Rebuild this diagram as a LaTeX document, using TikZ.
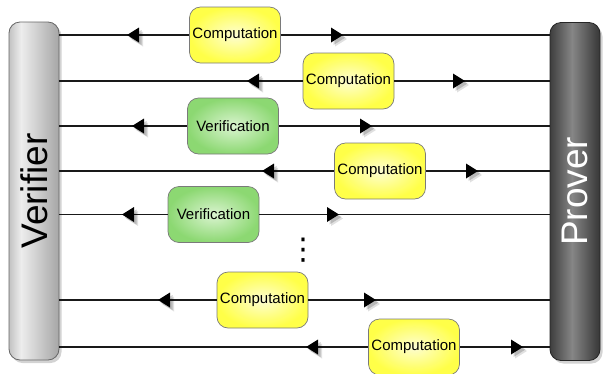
\documentclass[tikz,border=0pt]{standalone}
\usepackage{fontspec}
\setmainfont{Liberation Sans}
\newfontfamily\symfont{DejaVu Sans}
\usetikzlibrary{shadows}
\definecolor{vL}{HTML}{C2C2C2}
\definecolor{vM}{HTML}{EDEDED}
\definecolor{vR}{HTML}{A6A6A6}
\definecolor{pL}{HTML}{3E3E3E}
\definecolor{pM}{HTML}{868686}
\definecolor{pR}{HTML}{363636}
\definecolor{yIn}{HTML}{FDFDD2}
\definecolor{yOut}{HTML}{FFFF48}
\definecolor{gIn}{HTML}{DAF4D0}
\definecolor{gOut}{HTML}{8CD872}
\definecolor{boxedge}{HTML}{7A7A7A}
\pgfdeclarehorizontalshading{verbar}{100bp}{color(0bp)=(vL); color(25bp)=(vL); color(37bp)=(vM); color(75bp)=(vR); color(100bp)=(vR)}
\pgfdeclarehorizontalshading{probar}{100bp}{color(0bp)=(pL); color(25bp)=(pL); color(47bp)=(pM); color(75bp)=(pR); color(100bp)=(pR)}
\tikzset{
  bar/.style={rounded corners=11pt, minimum width=50pt, minimum height=338pt, inner sep=0pt,
    drop shadow={shadow xshift=2.5pt, shadow yshift=-3pt, opacity=.35}},
  verbarstyle/.style={bar, shading=verbar, draw=black!60, line width=.8pt},
  probarstyle/.style={bar, shading=probar, draw=black!85, line width=.8pt},
  barlabel/.style={rotate=90, font=\fontsize{37}{40}\selectfont, inner sep=0pt},
  taskbox/.style={rounded corners=11pt, minimum width=91pt, minimum height=56pt, inner sep=0pt,
    draw=boxedge, line width=.7pt, font=\fontsize{15}{17}\selectfont},
  comp/.style={taskbox, inner color=yIn, outer color=yOut},
  verif/.style={taskbox, inner color=gIn, outer color=gOut},
  msg/.style={line width=1.4pt, draw=black!90},
  tipL/.pic={
    \fill[black,opacity=.12] (4,4)--(16,-3.5)--(16,11.5)--cycle;
    \fill[black,opacity=.18] (2.5,2.5)--(14.5,-5)--(14.5,10)--cycle;
    \fill[black] (0,0)--(12,-7.5)--(12,7.5)--cycle;},
  tipR/.pic={
    \fill[black,opacity=.12] (4,4)--(-8,-3.5)--(-8,11.5)--cycle;
    \fill[black,opacity=.18] (2.5,2.5)--(-9.5,-5)--(-9.5,10)--cycle;
    \fill[black] (0,0)--(-12,-7.5)--(-12,7.5)--cycle;}
}
\begin{document}
\begin{tikzpicture}[x=1pt,y=-1pt]
\useasboundingbox (0,0) rectangle (603,373);
% bars
\node[verbarstyle, label={[barlabel,text=black]center:Verifier}] (V) at (34,191) {};
\node[probarstyle, label={[barlabel,text=white]center:Prover}] (P) at (575,191.5) {};
% task boxes
\node[comp]  (c1) at (235,35)    {Computation};
\node[comp]  (c2) at (348.5,81)  {Computation};
\node[verif] (v3) at (233,126)   {Verification};
\node[comp]  (c4) at (380,171)   {Computation};
\node[verif] (v5) at (213.5,214.5) {Verification};
\node[comp]  (c6) at (262.5,300) {Computation};
\node[comp]  (c7) at (414,347)   {Computation};
% connectors
\foreach \b in {c1,c2,v3,c4,v5,c6,c7}{
  \draw[msg] (V.east |- \b.west) -- (\b.west);
  \draw[msg] (\b.east) -- (P.west |- \b.east);
}
% arrowheads
\pic (l1) at (127,35)  {tipL}; \pic (r1) at (343,35)  {tipR};
\pic (l2) at (247,81)  {tipL}; \pic (r2) at (465,81)  {tipR};
\pic (l3) at (132,126) {tipL}; \pic (r3) at (372,126) {tipR};
\pic (l4) at (262,171) {tipL}; \pic (r4) at (478,171) {tipR};
\pic (l5) at (122,214.5) {tipL}; \pic (r5) at (339,214.5) {tipR};
\pic (l6) at (158,300) {tipL}; \pic (r6) at (376,300) {tipR};
\pic (l7) at (306,347) {tipL}; \pic (r7) at (523,347) {tipR};
% ellipsis
\node[inner sep=0pt, font=\symfont\fontsize{30}{30}\selectfont] (dots) at (303,250) {⋮};
\end{tikzpicture}
\end{document}
